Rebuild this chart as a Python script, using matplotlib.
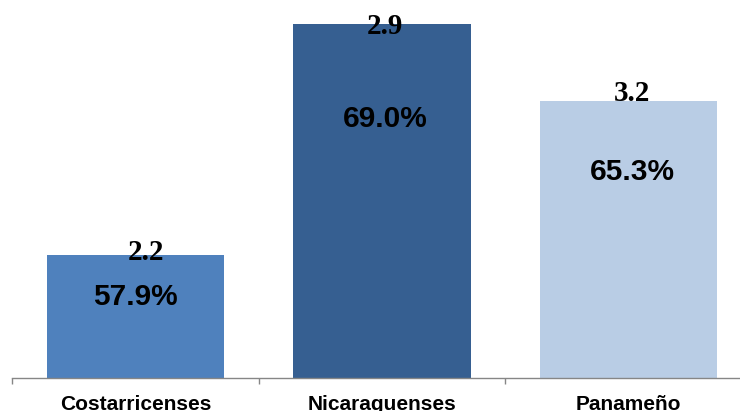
import matplotlib
matplotlib.use("Agg")
import matplotlib.pyplot as plt
from matplotlib.ticker import FixedLocator, NullFormatter

categories = ["Costarricenses", "Nicaraguenses", "Panameño"]
percentages = [57.9, 69.0, 65.3]
top_values = ["2.2", "2.9", "3.2"]
bar_colors = ["#4F81BD", "#365F91", "#B9CDE5"]

# label placement (points relative to the bar top)
pct_offsets = [-30.5, -68.5, -51.5]
top_offsets = [2, -2, 5.5]
top_dx = [8, 2, 2.5]
pct_dx = [0, 2, 2.5]

fig = plt.figure(figsize=(7.4, 4.11), dpi=100)
ax = fig.add_axes([12 / 740, 33 / 411, 740 / 740, 375 / 411])

x = list(range(len(categories)))
bars = ax.bar(x, percentages, width=0.72, color=bar_colors, zorder=2)

ax.set_xlim(-0.5, 2.5)
ax.set_ylim(52, 70)

for xi, v, t, po, to, tdx, pdx in zip(x, percentages, top_values,
                                        pct_offsets, top_offsets, top_dx, pct_dx):
    ax.annotate(f"{v:.1f}%", (xi, v), xytext=(pdx, po), textcoords="offset points",
                ha="center", va="center", fontsize=21.5, fontweight="bold",
                family="Liberation Sans", color="black")
    ax.annotate(t, (xi, v), xytext=(tdx, to), textcoords="offset points",
                ha="center", va="center", fontsize=21, fontweight="bold",
                family="Liberation Serif", color="black", zorder=3)

for s in ["left", "right", "top"]:
    ax.spines[s].set_visible(False)
ax.spines["bottom"].set_color("#868686")
ax.spines["bottom"].set_linewidth(1.0)
ax.yaxis.set_visible(False)

ax.xaxis.set_major_locator(FixedLocator([-0.5, 0.5, 1.5, 2.5]))
ax.xaxis.set_major_formatter(NullFormatter())
ax.xaxis.set_minor_locator(FixedLocator(x))
ax.set_xticklabels(categories, minor=True)
ax.tick_params(axis="x", which="major", direction="out", length=4.5,
               color="#868686", width=1.0)
ax.tick_params(axis="x", which="minor", length=0, pad=12.5)
for lbl in ax.get_xticklabels(minor=True):
    lbl.set_fontfamily("Liberation Sans")
    lbl.set_fontweight("bold")
    lbl.set_fontsize(15)

fig.savefig("out.png", dpi=100)
